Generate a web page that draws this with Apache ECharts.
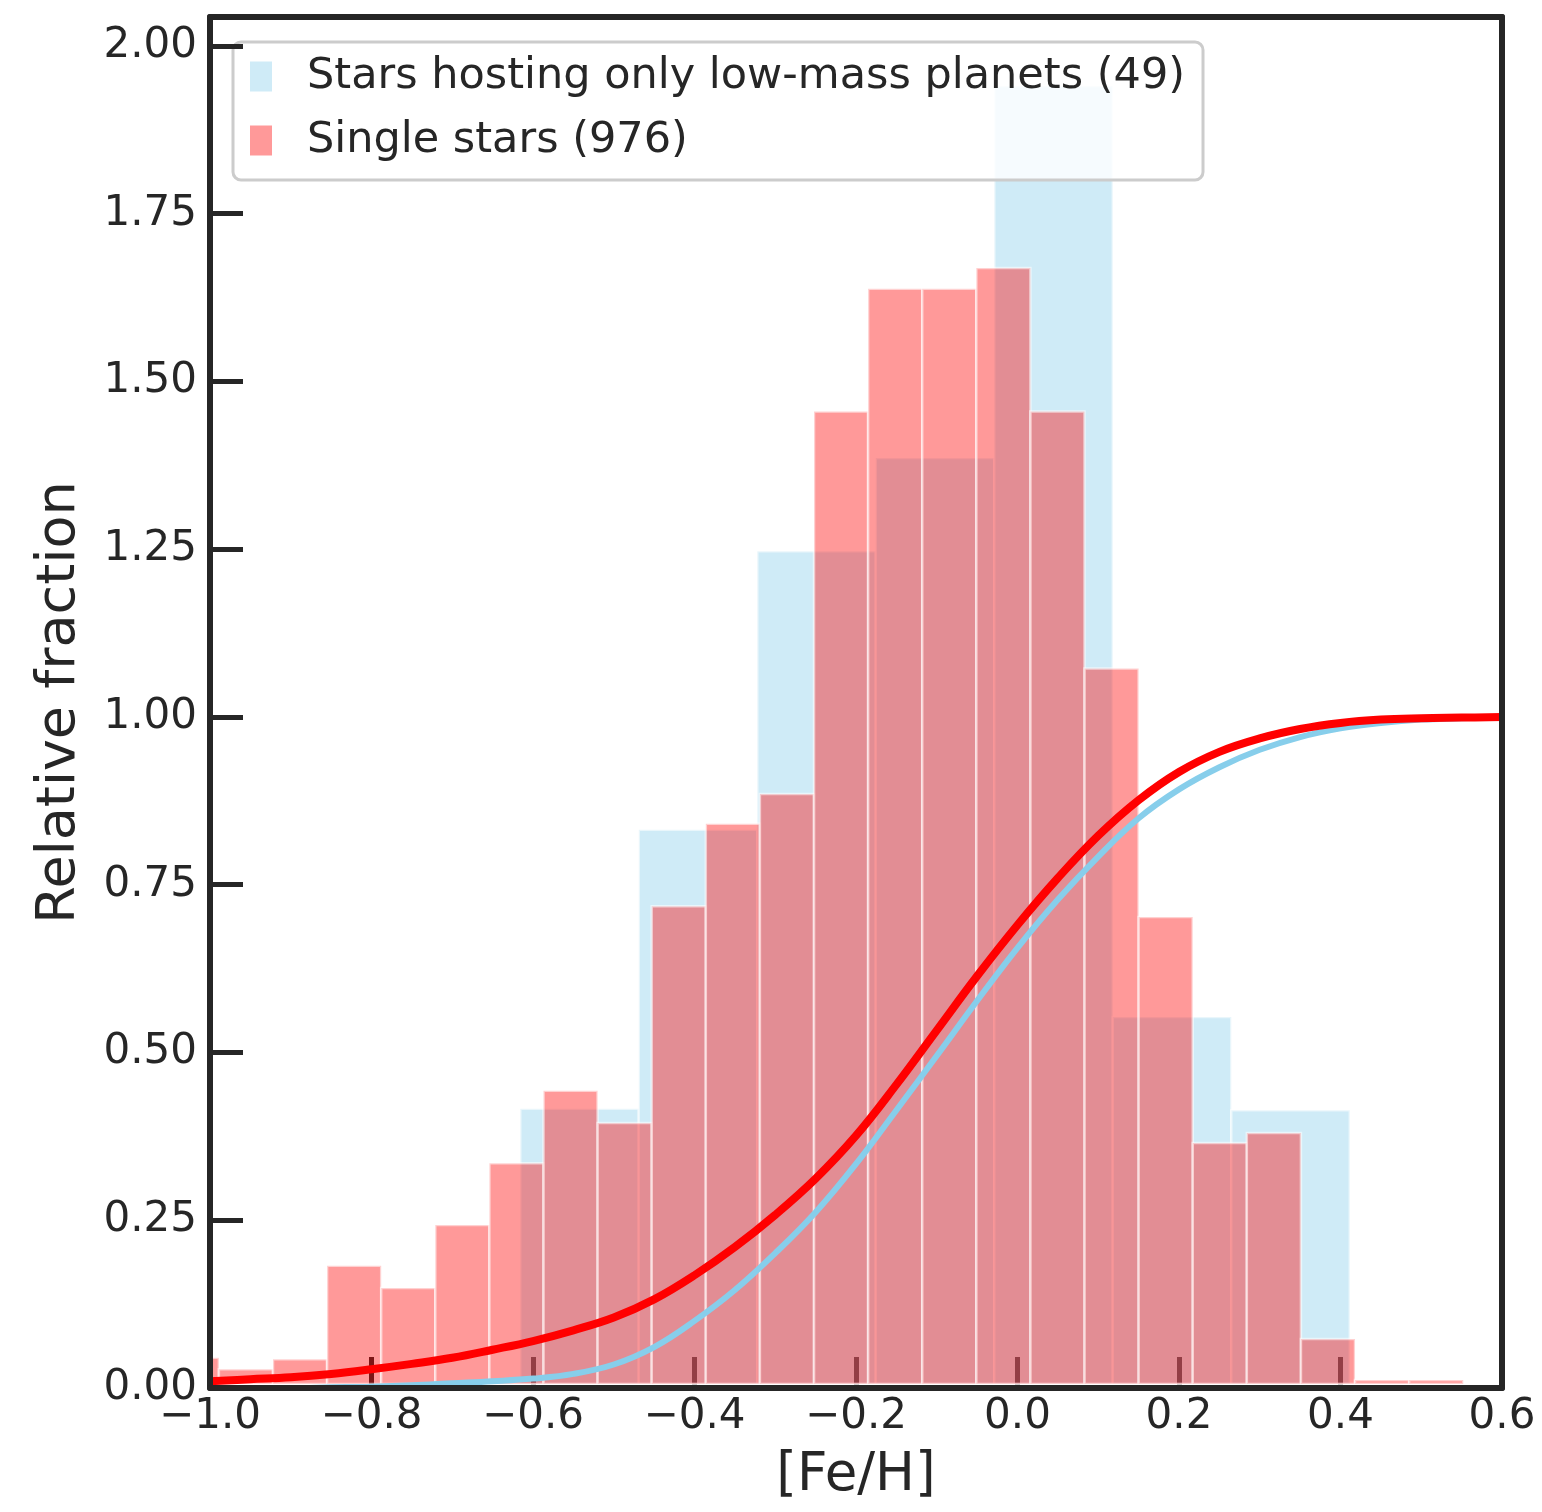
<!DOCTYPE html>
<html>
<head>
<meta charset="utf-8">
<script src="https://cdn.jsdelivr.net/npm/echarts@6/dist/echarts.min.js"></script>
<style>
  html, body { margin: 0; padding: 0; background: #ffffff; }
  #chart { width: 1542px; height: 1512px; }
</style>
</head>
<body>
<div id="chart"></div>
<script>
// ---- Data ----------------------------------------------------------------
const blueName = 'Stars hosting only low-mass planets (49)';
const redName = 'Single stars (976)';

// Single stars: 24 bins of equal width starting at -1.056 dex (normalised density)
const redBinStart = -1.056;
const redBinWidth = 0.0670;
const redDensity = [0.045, 0.028, 0.043, 0.182, 0.149, 0.243, 0.335, 0.443,
                    0.395, 0.718, 0.841, 0.885, 1.455, 1.638, 1.638, 1.669,
                    1.455, 1.072, 0.702, 0.365, 0.380, 0.073, 0.012, 0.012];

// Low-mass planet hosts: 10 bins of equal width starting at -1.056 dex
const blueBinStart = -1.056;
const blueBinWidth = 0.14675;
const blueDensity = [0, 0, 0, 0.416, 0.832, 1.247, 1.386, 1.940, 0.553, 0.414];

// Cumulative fits sampled every 0.05 dex
const curveFeH  = [-1.00, -0.95, -0.90, -0.85, -0.80, -0.75, -0.70, -0.65, -0.60, -0.55,
                   -0.50, -0.45, -0.40, -0.35, -0.30, -0.25, -0.20, -0.15, -0.10, -0.05,
                    0.00,  0.05,  0.10,  0.15,  0.20,  0.25,  0.30,  0.35,  0.40,  0.45,
                    0.50,  0.55,  0.60];
const redCurve  = [0.010, 0.013, 0.016, 0.021, 0.028, 0.036, 0.045, 0.057, 0.070, 0.086,
                   0.105, 0.132, 0.168, 0.210, 0.258, 0.312, 0.376, 0.452, 0.533, 0.614,
                   0.690, 0.760, 0.823, 0.876, 0.918, 0.948, 0.968, 0.982, 0.991, 0.996,
                   0.998, 0.999, 1.000];
const blueCurve = [0.000, 0.000, 0.000, 0.001, 0.002, 0.004, 0.007, 0.010, 0.014, 0.021,
                   0.035, 0.061, 0.100, 0.146, 0.201, 0.262, 0.334, 0.414, 0.495, 0.577,
                   0.656, 0.728, 0.792, 0.849, 0.892, 0.925, 0.951, 0.970, 0.983, 0.991,
                   0.996, 0.998, 1.000];

const yTicks = [0, 0.25, 0.5, 0.75, 1.0, 1.25, 1.5, 1.75, 2.0];

// ---- Helpers ---------------------------------------------------------------
const FONT = 'DejaVu Sans';
const INK = '#262626';

function binsToRows(start, width, heights) {
  return heights.map((h, i) => [start + i * width, start + (i + 1) * width, h]);
}

function pairs(xs, ys) {
  return xs.map((x, i) => [x, ys[i]]);
}

function histRender(fill) {
  return function (params, api) {
    const h = api.value(2);
    if (!(h > 0)) return null;
    const tl = api.coord([api.value(0), h]);
    const br = api.coord([api.value(1), 0]);
    const cs = params.coordSys;
    // keep the bar body just above the bottom spine
    const shape = echarts.graphic.clipRectByRect(
      { x: tl[0], y: tl[1], width: br[0] - tl[0], height: br[1] - tl[1] - 4 },
      { x: cs.x, y: cs.y, width: cs.width, height: cs.height }
    );
    if (!shape) return null;
    return {
      type: 'rect',
      shape: shape,
      style: { fill: fill, stroke: 'rgba(255,255,255,0.55)', lineWidth: 2.5 }
    };
  };
}

function fmtX(v) {
  if (Math.abs(v) < 1e-9) return '0.0';
  return (v < 0 ? '\u2212' : '') + Math.abs(v).toFixed(1);
}

function fmtY(v) {
  const hit = yTicks.some(t => Math.abs(t - v) < 1e-9);
  return hit ? v.toFixed(2) : '';
}

const BLUE_FILL = 'rgba(135,206,235,0.4)';
const RED_FILL = 'rgba(255,0,0,0.4)';

const frameLine = { show: true, onZero: false, lineStyle: { color: INK, width: 6 } };
const GRID = { left: 210, right: 40, top: 17, bottom: 124, containLabel: false };

// ---- Chart -----------------------------------------------------------------
const chart = echarts.init(document.getElementById('chart'), null, { renderer: 'canvas' });

const option = {
  animation: false,
  backgroundColor: '#ffffff',
  textStyle: { fontFamily: FONT, color: INK },
  // grid 0 holds the data; grid 1 only carries the bottom spine drawn above the marks
  grid: [Object.assign({}, GRID), Object.assign({}, GRID)],
  legend: {
    data: [blueName, redName],
    orient: 'vertical',
    left: 233,
    top: 42,
    icon: 'rect',
    itemWidth: 22,
    itemHeight: 30,
    itemGap: 21,
    padding: [13, 18, 18, 17],
    backgroundColor: 'rgba(255,255,255,0.8)',
    borderColor: '#cccccc',
    borderWidth: 3,
    borderRadius: 8,
    selectedMode: false,
    textStyle: { fontFamily: FONT, fontSize: 43, color: INK, padding: [0, 0, 0, 30] }
  },
  xAxis: [
    {
      type: 'value',
      gridIndex: 0,
      min: -1.0,
      max: 0.6,
      interval: 0.2,
      position: 'bottom',
      name: '[Fe/H]',
      nameLocation: 'middle',
      nameGap: 62,
      nameTextStyle: { fontFamily: FONT, fontSize: 53, color: INK },
      axisLine: { show: false, onZero: false },
      axisTick: { show: true, inside: true, length: 31, lineStyle: { color: INK, width: 5 } },
      axisLabel: { fontFamily: FONT, fontSize: 42, color: INK, margin: 8, formatter: fmtX },
      splitLine: { show: false }
    },
    {
      type: 'value',
      gridIndex: 0,
      min: -1.0,
      max: 0.6,
      interval: 0.2,
      position: 'top',
      z: 10,
      axisLine: frameLine,
      axisTick: { show: false },
      axisLabel: { show: false },
      splitLine: { show: false }
    },
    {
      type: 'value',
      gridIndex: 1,
      min: -1.0,
      max: 0.6,
      interval: 0.2,
      position: 'bottom',
      z: 10,
      axisLine: frameLine,
      axisTick: { show: false },
      axisLabel: { show: false },
      splitLine: { show: false }
    }
  ],
  yAxis: [
    {
      type: 'value',
      gridIndex: 0,
      min: 0,
      max: 2.043,
      interval: 0.25,
      position: 'left',
      z: 10,
      name: 'Relative fraction',
      nameLocation: 'middle',
      nameGap: 123,
      nameTextStyle: { fontFamily: FONT, fontSize: 54, color: INK },
      axisLine: frameLine,
      axisTick: { show: true, inside: true, length: 33, lineStyle: { color: INK, width: 5 } },
      axisLabel: { fontFamily: FONT, fontSize: 42, color: INK, margin: 13, formatter: fmtY, showMaxLabel: false },
      splitLine: { show: false }
    },
    {
      type: 'value',
      gridIndex: 0,
      min: 0,
      max: 2.043,
      interval: 0.25,
      position: 'right',
      z: 10,
      axisLine: frameLine,
      axisTick: { show: false },
      axisLabel: { show: false },
      splitLine: { show: false }
    },
    {
      type: 'value',
      gridIndex: 1,
      min: 0,
      max: 2.043,
      show: false,
      axisLine: { show: false, onZero: false },
      splitLine: { show: false }
    }
  ],
  series: [
    {
      name: blueName,
      type: 'custom',
      xAxisIndex: 0,
      yAxisIndex: 0,
      itemStyle: { color: BLUE_FILL },
      encode: { x: [0, 1], y: 2 },
      renderItem: histRender(BLUE_FILL),
      data: binsToRows(blueBinStart, blueBinWidth, blueDensity)
    },
    {
      name: redName,
      type: 'custom',
      xAxisIndex: 0,
      yAxisIndex: 0,
      itemStyle: { color: RED_FILL },
      encode: { x: [0, 1], y: 2 },
      renderItem: histRender(RED_FILL),
      data: binsToRows(redBinStart, redBinWidth, redDensity)
    },
    {
      name: 'blue-fit',
      type: 'line',
      xAxisIndex: 0,
      yAxisIndex: 0,
      showSymbol: false,
      smooth: 0.4,
      lineStyle: { color: '#87ceeb', width: 6 },
      data: pairs(curveFeH, blueCurve)
    },
    {
      name: 'red-fit',
      type: 'line',
      xAxisIndex: 0,
      yAxisIndex: 0,
      showSymbol: false,
      smooth: 0.4,
      lineStyle: { color: '#ff0000', width: 8 },
      data: pairs(curveFeH, redCurve)
    }
  ]
};

chart.setOption(option);
</script>
</body>
</html>
